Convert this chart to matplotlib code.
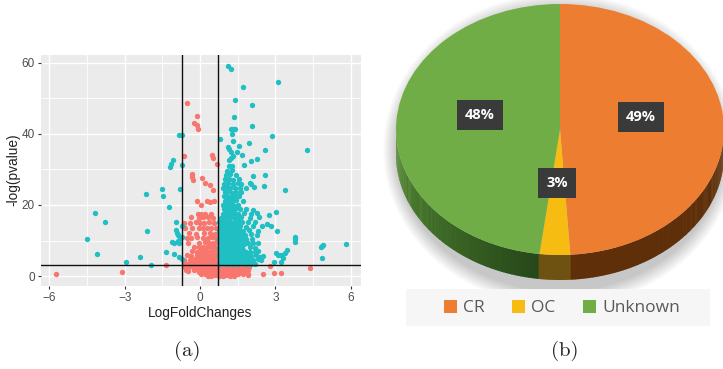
import matplotlib
matplotlib.use('Agg')
import matplotlib.pyplot as plt
import numpy as np
from matplotlib.patches import Ellipse, Rectangle

# 1. data of panel (a)
teal_x = [
    1.10, 1.22, 3.11, 1.70, 1.41, 2.07, 1.37, 2.07, 1.25, 1.33, 1.40, 1.26, 2.88, 0.78, 1.33, 1.96,
    1.55, 1.10, 1.17, 1.24, 1.49, 2.59, 4.25, 1.66, 1.32, 1.25, 1.17, 2.26, 2.03, 1.15, 1.28, 1.74,
    -0.84, -0.73, -1.06, -1.15, -1.20, -0.73, -1.50, -0.78, -2.16, -1.47, -1.25, -4.20, -3.80, -0.96,
    -0.72, -2.12, -4.49, -4.09, -0.96, -0.93, -0.87, -0.80, -0.72, -1.12, -1.04, -0.87, -0.83, -1.35,
    -1.04, -0.83, -0.72, -2.39, -2.95, -1.94,
    3.40, 5.83, 4.91, 4.86, 4.82, 4.87, 3.80, 3.80, 3.80, 3.45, 3.37, 3.23, 3.30, 3.23, 3.03, 3.10,
    2.93, 3.07, 3.03, 2.74, 2.84, 2.67, 2.55, 2.59, 2.10, 1.99, 2.04, 2.15,
    0.74, 0.95, 1.12, 1.30, 1.50, 1.68, 1.85, 2.02, 2.20,
    0.78, 0.92, 1.08, 1.25, 1.42, 1.60, 1.78, 1.95, 2.12, 2.30, 2.42,
    0.75, 0.90, 1.05, 1.20, 1.36, 1.52, 1.70, 1.90, 2.05, 2.22, 2.38, 2.50,
    0.80, 0.95, 1.10, 1.28, 1.44, 1.60, 1.82, 2.00, 2.18, 2.30,
    0.74, 0.88, 1.02, 1.18, 1.34, 1.50, 1.68, 1.98, 2.20,
    0.78, 0.92, 1.08, 1.24, 1.40, 1.56, 1.75, 1.92, 2.12, 2.30,
    0.75, 0.90, 1.05, 1.20, 1.36, 1.52, 1.70, 1.85, 2.08,
    0.82, 0.98, 1.12, 1.28, 1.44, 1.62, 1.80, 2.02, 2.25,
    0.76, 0.90, 1.06, 1.22, 1.38, 1.55, 1.72, 1.95, 2.30,
    0.80, 0.95, 1.10, 1.26, 1.42, 1.60, 1.82, 2.10, 2.45,
    0.74, 0.88, 1.02, 1.18, 1.34, 1.50, 1.68, 1.90, 2.20,
    0.84, 1.00, 1.14, 1.30, 1.46, 1.64, 1.98, 2.35,
    0.90, 1.06, 1.20, 1.36, 1.52, 1.75, 2.05, 2.25,
    0.95, 1.10, 1.24, 1.40, 1.58, 1.85, 2.10,
    0.90, 1.04, 1.18, 1.32, 1.50,
    0.98, 1.12, 1.26, 1.42, 1.70,
    0.94, 1.08, 1.22, 1.36, 1.55,
    1.00, 1.14, 1.28, 1.45, 1.62,
    0.92, 1.06, 1.20, 1.40, 1.60, 1.85,
    0.96, 1.10, 1.30, 1.50, 1.65,
    1.00, 1.16, 1.32, 1.55,
    1.02, 1.20, 1.42,
    1.08, 1.26,
    # the solid part of the cluster
    0.84, 1.00, 1.18, 1.36, 1.55, 1.74, 1.92,
    0.82, 0.98, 1.16, 1.34, 1.50, 1.68, 1.86,
    0.86, 1.02, 1.18, 1.32, 1.48, 1.62, 1.80,
    0.84, 1.00, 1.16, 1.34, 1.52, 1.72,
    0.80, 0.96, 1.12, 1.28, 1.44, 1.60,
    0.84, 1.00, 1.16, 1.32, 1.48, 1.64,
    0.82, 0.98, 1.14, 1.30, 1.46, 1.62,
    0.86, 1.02, 1.18, 1.34, 1.50,
    0.84, 1.00, 1.16, 1.32, 1.48,
    0.88, 1.04, 1.20, 1.36, 1.50,
    0.92, 1.08, 1.24, 1.40,
    0.96, 1.12, 1.28, 1.44,
]
teal_y = [
    59.2, 58.4, 54.5, 53.1, 49.5, 48.0, 44.8, 42.2, 41.4, 41.4, 41.4, 40.1, 39.5, 38.5, 38.0, 37.3,
    36.7, 36.4, 35.7, 34.9, 35.0, 35.4, 35.4, 34.1, 33.9, 33.1, 32.6, 32.8, 32.3, 31.0, 30.9, 31.2,
    39.8, 39.8, 32.6, 31.5, 30.7, 31.3, 24.5, 24.4, 23.1, 22.6, 19.4, 17.7, 15.3, 15.3,
    14.1, 12.7, 10.3, 6.1, 12.9, 12.1, 11.5, 10.7, 10.9, 9.7, 9.4, 9.9, 9.2, 6.7,
    6.1, 5.3, 4.8, 5.4, 4.0, 3.2,
    24.1, 9.0, 8.8, 8.5, 8.1, 5.1, 10.9, 10.3, 9.7, 7.2, 6.4, 6.0, 5.2, 4.0, 6.5, 5.9,
    3.9, 12.7, 17.9, 17.1, 14.0, 14.6, 25.4, 28.5, 28.2, 26.3, 25.8, 25.0,
    3.4, 3.6, 3.3, 3.5, 3.4, 3.6, 3.3, 3.5, 3.4,
    4.5, 4.7, 4.4, 4.6, 4.5, 4.7, 4.4, 4.6, 4.5, 4.7, 4.4,
    5.6, 5.8, 5.5, 5.7, 5.6, 5.8, 5.5, 5.7, 5.6, 5.8, 5.5, 5.7,
    6.8, 7.0, 6.7, 6.9, 6.8, 7.0, 6.7, 6.9, 6.8, 7.0,
    8.0, 8.2, 7.9, 8.1, 8.0, 8.2, 7.9, 8.1, 8.0,
    9.2, 9.4, 9.1, 9.3, 9.2, 9.4, 9.1, 9.3, 9.2, 9.4,
    10.4, 10.6, 10.3, 10.5, 10.4, 10.6, 10.3, 10.5, 10.4,
    11.6, 11.8, 11.5, 11.7, 11.6, 11.8, 11.5, 11.7, 11.6,
    12.8, 13.0, 12.7, 12.9, 12.8, 13.0, 12.7, 12.9, 12.8,
    14.0, 14.2, 13.9, 14.1, 14.0, 14.2, 13.9, 14.1, 14.0,
    15.2, 15.4, 15.1, 15.3, 15.2, 15.4, 15.1, 15.3, 15.2,
    16.4, 16.6, 16.3, 16.5, 16.4, 16.6, 16.3, 16.5,
    17.6, 17.8, 17.5, 17.7, 17.6, 17.8, 17.5, 17.7,
    18.8, 19.0, 18.7, 18.9, 18.8, 19.0, 18.7,
    20.0, 20.2, 19.9, 20.1, 20.0,
    21.2, 21.4, 21.1, 21.3, 21.2,
    22.4, 22.6, 22.3, 22.5, 22.4,
    23.6, 23.8, 23.5, 23.7, 23.6,
    24.8, 25.0, 24.7, 24.9, 24.8, 24.9,
    26.0, 26.2, 25.9, 26.1, 26.0,
    27.2, 27.4, 27.1, 27.3,
    28.4, 28.6, 28.3,
    29.6, 29.8,
    4.0, 4.0, 4.0, 4.0, 4.0, 4.0, 4.0,
    5.1, 5.1, 5.1, 5.1, 5.1, 5.1, 5.1,
    6.2, 6.2, 6.2, 6.2, 6.2, 6.2, 6.2,
    7.4, 7.4, 7.4, 7.4, 7.4, 7.4,
    8.6, 8.6, 8.6, 8.6, 8.6, 8.6,
    9.8, 9.8, 9.8, 9.8, 9.8, 9.8,
    11.0, 11.0, 11.0, 11.0, 11.0, 11.0,
    12.2, 12.2, 12.2, 12.2, 12.2,
    13.4, 13.4, 13.4, 13.4, 13.4,
    14.6, 14.6, 14.6, 14.6, 14.6,
    17.0, 17.0, 17.0, 17.0,
    19.4, 19.4, 19.4, 19.4,
]
red_x = [
    -0.50, -0.12, -0.25, -0.11, -0.07, -0.62, 0.49, 0.52, 0.66, -0.32, -0.32, -0.29, 0.08, 0.19, 0.41, 0.52,
    -5.75, -3.12, -1.37, 2.80, 4.36, 2.51, 2.96, 3.21,
    -0.58, -0.45, -0.30, -0.10, 0.05, 0.20, 0.35, 0.50, 0.65, 0.80, 0.98, 1.15, 1.35, 1.55, 1.75, 1.95,
    -0.55, -0.48, -0.25, -0.05, 0.10, 0.25, 0.40, 0.55, 0.70, 0.85, 1.00, 1.20, 1.40, 1.60, 1.80, 1.92,
    0.05, 0.20, 0.35, 0.50, 0.65, 0.80, 0.95, 1.10, 1.30, 1.50, 1.70, 1.90,
    0.30, 0.45, 0.60, 0.75, 0.90, 1.05, 1.20, 1.35, 1.90,
    -0.60, -0.45, -0.30, -0.15, 0.00, 0.15, 0.30, 0.45, 0.60,
    -0.62, -0.38, -0.18, -0.02, 0.14, 0.30, 0.46, 0.62,
    -0.50, -0.35, -0.10, 0.06, 0.22, 0.38, 0.54, 0.66,
    -0.30, -0.12, 0.04, 0.20, 0.36, 0.52, 0.66,
    -0.25, -0.05, 0.12, 0.28, 0.44, 0.60,
    -0.48, -0.02, 0.20, 0.36, 0.52, 0.66,
    -0.50, -0.35, -0.12, 0.10, 0.30, 0.48, 0.62,
    -0.42, -0.15, 0.15, 0.40, 0.58,
    -0.58, -0.30, -0.02, 0.12, 0.26, 0.44, 0.64,
    -0.62, -0.40, -0.15, 0.00, 0.15, 0.35, 0.55,
    -0.35, -0.05, 0.10, 0.30, 0.52,
    -0.08, 0.05, 0.20, 0.42,
    0.03, 0.28, 0.40, 0.55, -0.13,
    # the solid part near the axis
    0.12, 0.28, 0.44, 0.60, 0.76, 0.92, 1.08, 1.26, 1.44, 1.62,
    -0.02, 0.14, 0.30, 0.46, 0.62, 0.78, 0.94, 1.12, 1.30, 1.48, 1.66,
    0.10, 0.26, 0.42, 0.58, 0.68,
    0.02, 0.18, 0.34, 0.50, 0.66,
    0.10, 0.26, 0.42, 0.58,
]
red_y = [
    48.7, 45.0, 43.0, 42.4, 41.5, 33.8, 34.1, 33.3, 31.4, 28.6, 28.0, 27.0, 27.5, 26.2, 25.7, 24.2,
    0.6, 1.1, 3.0, 2.9, 2.3, 0.6, 0.8, 0.8,
    2.6, 2.5, 2.7, 2.6, 2.5, 2.7, 2.6, 2.5, 2.7, 2.6, 2.5, 2.7, 2.6, 2.5, 2.7, 2.6,
    1.6, 1.5, 1.7, 1.6, 1.5, 1.7, 1.6, 1.5, 1.7, 1.6, 1.5, 1.7, 1.6, 1.5, 1.7, 1.6,
    0.6, 0.7, 0.5, 0.6, 0.7, 0.5, 0.6, 0.7, 0.5, 0.6, 0.7, 0.5,
    0.1, 0.0, 0.2, 0.1, 0.0, 0.2, 0.1, 0.0, 0.2,
    3.6, 3.5, 3.7, 3.6, 3.5, 3.7, 3.6, 3.5, 3.7,
    4.6, 4.5, 4.7, 4.6, 4.5, 4.7, 4.6, 4.5,
    5.8, 5.7, 5.9, 5.8, 5.7, 5.9, 5.8, 5.7,
    7.0, 6.9, 7.1, 7.0, 6.9, 7.1, 7.0,
    8.2, 8.1, 8.3, 8.2, 8.1, 8.3,
    9.4, 9.3, 9.5, 9.4, 9.3, 9.5,
    10.8, 10.7, 10.9, 10.8, 10.7, 10.9, 10.8,
    12.0, 11.9, 12.1, 12.0, 11.9,
    13.5, 13.4, 13.6, 13.5, 13.4, 13.6, 13.5,
    15.0, 14.9, 15.1, 15.0, 14.9, 15.1, 15.0,
    16.5, 16.4, 16.6, 16.5, 16.4,
    17.5, 17.4, 17.6, 17.5,
    20.0, 21.0, 20.9, 21.1, 21.0,
    2.1, 2.1, 2.1, 2.1, 2.1, 2.1, 2.1, 2.1, 2.1, 2.1,
    1.1, 1.1, 1.1, 1.1, 1.1, 1.1, 1.1, 1.1, 1.1, 1.1, 1.1,
    4.1, 4.1, 4.1, 4.1, 4.1,
    5.2, 5.2, 5.2, 5.2, 5.2,
    6.4, 6.4, 6.4, 6.4,
]
x_ticks = [-6, -3, 0, 3, 6]
y_ticks = [0, 20, 40, 60]
x_minor = [-4.5, -1.5, 1.5, 4.5]
y_minor = [10, 30, 50]
h_cut = 3.2
v_cuts = [-0.7, 0.7]

# 2. data of panel (b)
pie_labels = ['CR', 'OC', 'Unknown']
pie_values = [49, 3, 48]
pie_texts = ['49%', '3%', '48%']
pie_colors = ['#ED7D31', '#F7BC12', '#70AD47']

W, H = 723, 369
# ellipse of the pie top, in pixels
cx, cy, rx, ry = 560, 129.5, 164, 125.5
depth = 25 / ry


def fx(px):
    return px / W


def fy(py):
    return 1 - py / H


fig = plt.figure(figsize=(W / 100, H / 100), dpi=100)

# 3. panel (a): volcano plot
ax = fig.add_axes([fx(41), fy(286), 320 / W, 231 / H])
ax.set_facecolor('#EBEBEB')
ax.scatter(red_x, red_y, s=15, color='#F8766D', linewidths=0, zorder=3)
ax.scatter(teal_x, teal_y, s=15, color='#1FBFC3', linewidths=0, zorder=3)
ax.axhline(h_cut, color='#111111', lw=1.0, zorder=4)
for v in v_cuts:
    ax.axvline(v, color='#111111', lw=1.0, zorder=4)
ax.set_xlim(-6.33, 6.41)
ax.set_ylim(-2.8, 62.2)
ax.set_xticks(x_ticks)
ax.set_yticks(y_ticks)
ax.set_xticks(x_minor, minor=True)
ax.set_yticks(y_minor, minor=True)
ax.grid(True, which='major', color='white', lw=1.0, zorder=1)
ax.grid(True, which='minor', color='white', lw=0.6, zorder=1)
ax.set_axisbelow(True)
for s in ax.spines.values():
    s.set_visible(False)
ax.tick_params(which='major', length=2.5, width=0.8, color='#333333', labelcolor='#4D4D4D',
               labelsize=8.5, pad=2)
ax.tick_params(which='minor', length=0)
for lab in ax.get_xticklabels() + ax.get_yticklabels():
    lab.set_family('Liberation Sans')
fig.text(fx(200), fy(313), 'LogFoldChanges', ha='center', va='center', fontsize=9.8,
         family='Liberation Sans', color='#222222')
fig.text(fx(13), fy(170), '-log(pvalue)', ha='center', va='center', rotation=90, fontsize=9.8,
         family='Liberation Sans', color='#222222')

# 4. panel (b): pie with a fake 3d wall
pax = fig.add_axes([0, 0, 1, 1], zorder=0)
wedges, _ = pax.pie(pie_values, colors=pie_colors, startangle=90, counterclock=False, radius=1,
                    wedgeprops={'linewidth': 0, 'zorder': 5})
pax.set_aspect('auto')
pax.set_xlim((0 - cx) / rx, (W - cx) / rx)
pax.set_ylim((cy - H) / ry, cy / ry)
pax.axis('off')

# soft shadow under the pie
for k in range(14):
    pax.add_patch(Ellipse((0, -0.16), 2.0 + k * 0.012, 2.26 + k * 0.018, facecolor='black',
                          alpha=0.016, linewidth=0, zorder=1))

# wall: walk along the front of the ellipse
a1 = 90 - pie_values[0] * 3.6
a2 = a1 - pie_values[1] * 3.6
angles = np.linspace(-180, 0, 241)
for a, b in zip(angles[:-1], angles[1:]):
    mid = (a + b) / 2
    if mid > a1:
        c = '#5E2F08'
    elif mid > a2:
        c = '#6E5212'
    else:
        t = (mid + 180) / (a2 + 180)
        c = (0.34 - 0.19 * t, 0.56 - 0.28 * t, 0.20 - 0.10 * t)
    ra, rb = np.radians(a), np.radians(b + 0.3)
    xs = [np.cos(ra), np.cos(rb), np.cos(rb), np.cos(ra)]
    ys = [np.sin(ra), np.sin(rb), np.sin(rb) - depth, np.sin(ra) - depth]
    pax.fill(xs, ys, color=c, linewidth=0, zorder=3)

# value boxes
label_pos = [(641, 117), (557, 183), (480, 115)]
for (px, py), txt in zip(label_pos, pie_texts):
    fig.text(fx(px), fy(py), txt, ha='center', va='center', fontsize=10.5, fontweight='bold',
             family='Open Sans', color='white', zorder=6,
             bbox=dict(facecolor='#3A3A3A', edgecolor='none', boxstyle='square,pad=0.55'))

# legend band
fig.add_artist(Rectangle((fx(406), fy(326)), 304 / W, 37 / H, transform=fig.transFigure,
                         facecolor='#F6F6F6', edgecolor='none', zorder=2))
leg = fig.legend(wedges, pie_labels, ncol=3, loc='center', bbox_to_anchor=(fx(562), fy(308)),
                 frameon=False, handlelength=0.75, handleheight=0.75, handletextpad=0.35,
                 columnspacing=1.6, prop={'family': 'Open Sans', 'size': 12.5}, labelcolor='#595959')
leg.set_zorder(3)

# 5. captions
for px, txt in [(187, '(a)'), (565, '(b)')]:
    fig.text(fx(px), fy(351), txt, ha='center', va='center', fontsize=15, family='cmr10', color='#222222')

plt.savefig('out.png', dpi=100)
